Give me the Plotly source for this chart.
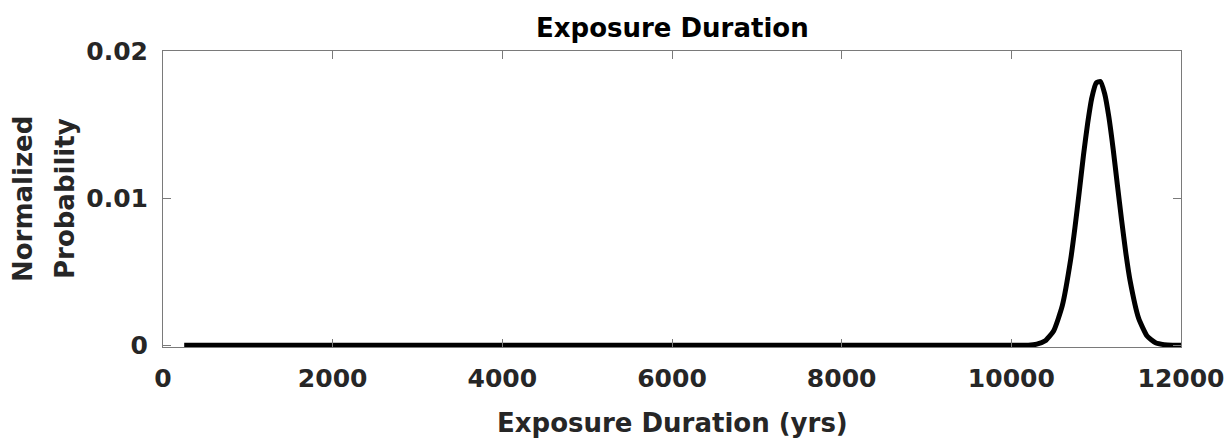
import plotly.graph_objects as go

# Exposure duration (yrs) and normalized probability
duration_yrs = [250, 2000, 4000, 6000, 8000, 10000, 10200, 10300, 10400, 10500, 10600,
                10700, 10750, 10800, 10850, 10900, 10950, 11000, 11050, 11100,
                11150, 11200, 11250, 11300, 11350, 11400, 11500, 11600, 11700,
                11800, 11900, 12000]
probability = [0, 0, 0, 0, 0, 0, 0, 0.00007, 0.0003, 0.00099, 0.00267,
               0.00585, 0.0080, 0.0104, 0.0129, 0.0151, 0.01685, 0.01783, 0.01793, 0.0171,
               0.0155, 0.01335, 0.0109, 0.0085, 0.00625, 0.00438, 0.00184, 0.00063, 0.00017,
               0.00004, 0, 0]

x_ticks = [0, 2000, 4000, 6000, 8000, 10000, 12000]
x_ticktext = ["0", "2000", "4000", "6000", "8000", "10000", "12000"]
y_ticks = [0, 0.01, 0.02]
y_ticktext = ["0", "0.01", "0.02"]

title_text = "Exposure Duration"
x_title = "Exposure Duration (yrs)"
y_title_lines = ["Normalized", "Probability"]

FONT = "DejaVu Sans, sans-serif"
W, H = 1229, 441
L, R, T, B = 163, 48, 51, 94
PW = W - L - R

fig = go.Figure()
fig.add_trace(go.Scatter(
    x=duration_yrs, y=probability, mode="lines",
    line=dict(color="black", width=5, shape="spline", smoothing=0.5),
    showlegend=False, hoverinfo="skip",
))

axis_common = dict(
    showgrid=False, zeroline=False, showline=True, linecolor="#7a7a7a", linewidth=1,
    mirror="ticks", ticks="inside", ticklen=8, tickwidth=1, tickcolor="#7a7a7a",
    automargin=False,
    tickfont=dict(family=FONT, size=25, color="#262626", weight="bold"),
)

label_font = dict(family=FONT, size=26, color="#262626", weight="bold")
annotations = [
    dict(text=title_text, xref="paper", yref="paper", x=0.5, y=1, yshift=23,
         xanchor="center", yanchor="middle", showarrow=False,
         font=dict(family=FONT, size=26, color="black", weight="bold")),
    dict(text=x_title, xref="paper", yref="paper", x=0.5, y=0, yshift=-76,
         xanchor="center", yanchor="middle", showarrow=False, font=label_font),
]
for line_text, cx in zip(y_title_lines, [23, 65]):
    annotations.append(dict(text=line_text, xref="paper", yref="paper",
                            x=(cx - L) / PW, y=0.5, xanchor="center", yanchor="middle",
                            showarrow=False, textangle=-90, font=label_font))

fig.update_layout(
    width=W, height=H,
    margin=dict(l=L, r=R, t=T, b=B, pad=0),
    paper_bgcolor="white", plot_bgcolor="white",
    xaxis=dict(range=[0, 12000], tickvals=x_ticks, ticktext=x_ticktext,
               ticklabelstandoff=9, **axis_common),
    yaxis=dict(range=[-0.00012, 0.02], tickvals=y_ticks, ticktext=y_ticktext,
               ticklabelstandoff=9, **axis_common),
    annotations=annotations,
)

fig.write_html("out.html")
